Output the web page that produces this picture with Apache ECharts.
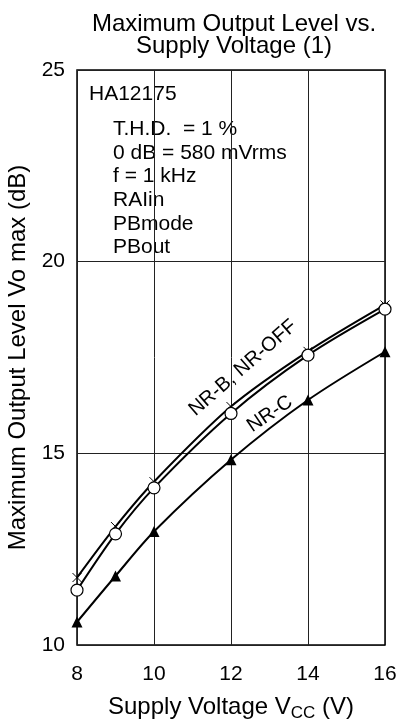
<!DOCTYPE html>
<html>
<head>
<meta charset="utf-8">
<script src="https://cdn.jsdelivr.net/npm/echarts@6/dist/echarts.min.js"></script>
<style>
  html, body { margin: 0; padding: 0; background: #fff; }
  #chart { width: 398px; height: 722px; }
</style>
</head>
<body>
<div id="chart"></div>
<script>
// supply voltage (V)
let vcc = [8, 9, 10, 12, 14, 16];
// max output level (dB)
let nrOff = [11.76, 13.09, 14.26, 16.22, 17.66, 18.87];  // crosses
let nrB = [11.43, 12.9, 14.1, 16.04, 17.56, 18.76];      // open circles
let nrC = [10.6, 11.8, 12.96, 14.83, 16.39, 17.65];      // filled triangles

let notes = ['T.H.D.  = 1 %', '0 dB = 580 mVrms', 'f = 1 kHz', 'RAIin', 'PBmode', 'PBout'];

const font = 'Liberation Sans, Arial, Helvetica, sans-serif';

function pairs(ys) {
    return vcc.map((x, i) => [x, ys[i]]);
}

let noteText = notes.map((t, i) => ({
    type: 'text',
    left: 113,
    top: 119 + i * 23.6,
    style: { text: t, font: '21px ' + font, fill: '#000' }
}));

let option = {
    animation: false,
    backgroundColor: '#fff',
    title: {
        text: 'Maximum Output Level vs.\nSupply Voltage (1)',
        left: 229,
        top: 8,
        textAlign: 'center',
        textStyle: { fontFamily: font, fontSize: 24, fontWeight: 'normal', color: '#000', lineHeight: 22 }
    },
    grid: {
        left: 77, right: 13, top: 70, bottom: 77,
        outerBoundsMode: 'none',
        show: true, borderColor: '#000', borderWidth: 1.5
    },
    xAxis: {
        type: 'value',
        min: 8, max: 16, interval: 2,
        name: '{a|Supply Voltage V}{s|CC}{a| (V)}',
        nameLocation: 'middle',
        nameGap: 48,
        nameTextStyle: {
            rich: {
                a: { fontFamily: font, fontSize: 24, color: '#000' },
                s: { fontFamily: font, fontSize: 17, color: '#000', padding: [12, 0, 0, 0] }
            }
        },
        axisLine: { show: false },
        axisTick: { show: false },
        axisLabel: { fontFamily: font, fontSize: 21, color: '#000', margin: 19 },
        splitLine: { lineStyle: { color: '#222', width: 1 } }
    },
    yAxis: {
        type: 'value',
        min: 10, max: 25, interval: 5,
        name: 'Maximum Output Level Vo max (dB)',
        nameLocation: 'middle',
        nameGap: 42,
        nameTextStyle: { fontFamily: font, fontSize: 24, color: '#000' },
        axisLine: { show: false },
        axisTick: { show: false },
        axisLabel: { fontFamily: font, fontSize: 21, color: '#000', margin: 12, padding: [7, 0, 0, 0] },
        splitLine: { lineStyle: { color: '#222', width: 1 } }
    },
    graphic: [
        {
            type: 'text', left: 89, top: 84,
            style: { text: 'HA12175', font: '21px ' + font, fill: '#000' }
        },
        ...noteText,
        {
            type: 'text', x: 243, y: 368, rotation: 41 * Math.PI / 180,
            style: { text: 'NR-B, NR-OFF', font: '20px ' + font, fill: '#000', align: 'center', verticalAlign: 'middle' }
        },
        {
            type: 'text', x: 270, y: 414, rotation: 34 * Math.PI / 180,
            style: { text: 'NR-C', font: '20px ' + font, fill: '#000', align: 'center', verticalAlign: 'middle' }
        }
    ],
    series: [
        {
            name: 'NR-OFF',
            type: 'line',
            smooth: 0.3,
            data: pairs(nrOff),
            symbol: 'path://M0,0L10,10M10,0L0,10',
            symbolSize: 9,
            lineStyle: { color: '#000', width: 2 },
            itemStyle: { color: 'none', borderColor: '#000', borderWidth: 1 },
            z: 2
        },
        {
            name: 'NR-B',
            type: 'line',
            smooth: 0.3,
            data: pairs(nrB),
            symbol: 'circle',
            symbolSize: 12,
            lineStyle: { color: '#000', width: 2 },
            itemStyle: { color: '#fff', borderColor: '#000', borderWidth: 1.2 },
            z: 3
        },
        {
            name: 'NR-C',
            type: 'line',
            smooth: 0.3,
            data: pairs(nrC),
            symbol: 'triangle',
            symbolSize: 11,
            lineStyle: { color: '#000', width: 2 },
            itemStyle: { color: '#000' },
            z: 3
        }
    ]
};

let chart = echarts.init(document.getElementById('chart'));
chart.setOption(option);
</script>
</body>
</html>
